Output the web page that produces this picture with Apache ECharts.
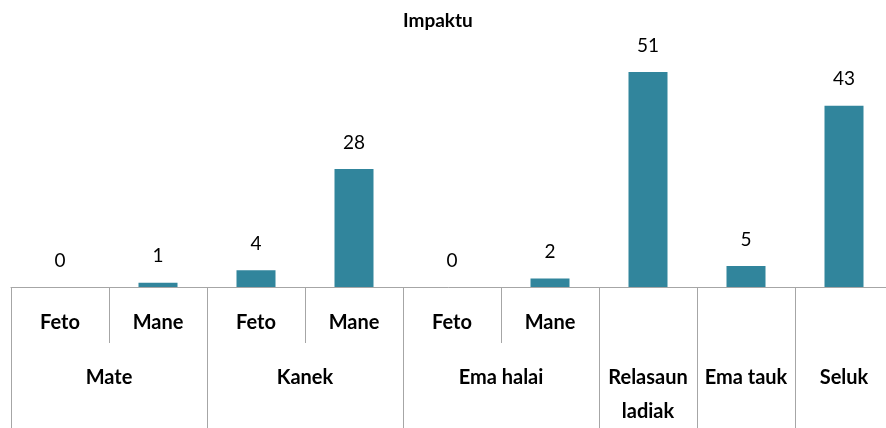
<!DOCTYPE html>
<html>
<head>
<meta charset="utf-8">
<title>Impaktu</title>
<script src="https://cdn.jsdelivr.net/npm/echarts@6/dist/echarts.min.js"></script>
<style>
  html, body { margin: 0; padding: 0; background: #fff; }
  #main { width: 886px; height: 428px; }
</style>
</head>
<body>
<div id="main"></div>
<script>
// sub categories (first level) and their values
var subLabels = ['Feto', 'Mane', 'Feto', 'Mane', 'Feto', 'Mane', '', '', ''];
var values = [0, 1, 4, 28, 0, 2, 51, 5, 43];
// group labels (second level), placed at the middle of each group
var groupNames = ['Mate', 'Kanek', 'Ema halai', 'Relasaun\nladiak', 'Ema tauk', 'Seluk'];
var groupCenters = [1, 3, 5, 6.5, 7.5, 8.5];
var groupEdges = [0, 2, 4, 6, 7, 8, 9];

var myChart = echarts.init(document.getElementById('main'));
var font = 'Lato, "Liberation Sans", sans-serif';
var option = {
    title: {
        text: 'Impaktu',
        left: 398,
        top: 6,
        textStyle: { fontFamily: font, fontSize: 19, fontWeight: 'bold', color: '#000' }
    },
    grid: { left: 11, width: 882, top: 34, bottom: 141, containLabel: false, outerBoundsMode: 'none' },
    xAxis: [
        {
            type: 'category',
            data: subLabels,
            axisLine: { lineStyle: { color: '#a6a6a6', width: 1 } },
            axisTick: { show: true, interval: 0, length: 56, lineStyle: { color: '#a6a6a6' } },
            axisLabel: {
                interval: 0, margin: 26, lineHeight: 20,
                fontFamily: font, fontSize: 20, fontWeight: 'bold', color: '#000'
            },
            splitLine: { show: false }
        },
        {
            type: 'value',
            min: 0,
            max: 9,
            position: 'bottom',
            axisLine: { show: false },
            splitLine: { show: false },
            axisTick: {
                show: true, length: 141, customValues: groupEdges,
                lineStyle: { color: '#a6a6a6' }
            },
            axisLabel: {
                customValues: groupCenters,
                margin: 74, lineHeight: 34,
                fontFamily: font, fontSize: 20, fontWeight: 'bold', color: '#000',
                formatter: function (v) {
                    var i = groupCenters.indexOf(v);
                    return i >= 0 ? groupNames[i] : '';
                }
            }
        }
    ],
    yAxis: {
        type: 'value',
        min: 0,
        max: 60,
        show: false
    },
    series: [
        {
            type: 'bar',
            xAxisIndex: 0,
            data: values,
            barWidth: 39,
            itemStyle: { color: '#31859c' },
            label: {
                show: true,
                position: 'top',
                distance: 17,
                fontFamily: font,
                fontSize: 19,
                color: '#000'
            }
        }
    ]
};
myChart.setOption(option);
</script>
</body>
</html>
